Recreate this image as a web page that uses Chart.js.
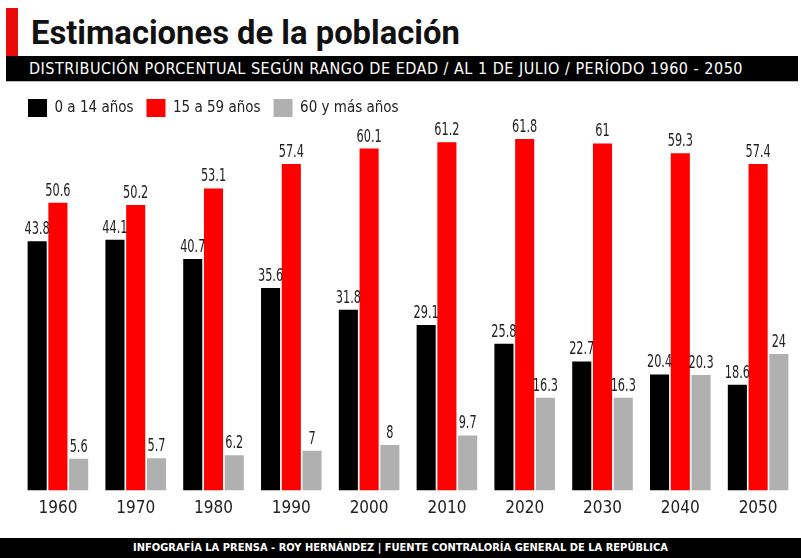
<!DOCTYPE html>
<html><head><meta charset="utf-8">
<script src="https://cdn.jsdelivr.net/npm/chart.js@4/dist/chart.umd.min.js"></script>
<style>
html,body{margin:0;padding:0;background:#fff;width:801px;height:558px;overflow:hidden;position:relative;font-family:"DejaVu Sans Condensed","Liberation Sans Narrow",Roboto,sans-serif;}
#redbar{position:absolute;left:6px;top:8px;width:12px;height:48px;background:#ea0a0a;}
#title{position:absolute;left:31px;top:13px;font-family:Roboto,"Open Sans",sans-serif;font-weight:700;font-size:30px;color:#111;white-space:nowrap;line-height:40px;}
#sub{position:absolute;left:6px;top:56px;width:792px;height:25px;background:#000;border-bottom:1px solid #bbb;}
#subtext{position:absolute;left:29px;top:56px;height:25px;line-height:25px;color:#fff;font-size:16px;white-space:nowrap;}
#footer{position:absolute;left:0;top:538px;width:801px;height:20px;background:#000;}
#foottext{position:absolute;left:133px;top:538px;line-height:20px;color:#fff;font-weight:700;font-size:11px;white-space:nowrap;font-family:"DejaVu Sans Condensed",sans-serif;}
#wrap{position:absolute;left:0;top:86px;width:801px;height:441px;}
</style></head>
<body>
<div id="redbar"></div>
<div id="title">Estimaciones de la población</div>
<div id="sub"></div>
<div id="subtext">DISTRIBUCIÓN PORCENTUAL SEGÚN RANGO DE EDAD / AL 1 DE JULIO / PERÍODO 1960 - 2050</div>
<div id="wrap"><canvas id="c" width="801" height="441"></canvas></div>
<div id="footer"></div>
<div id="foottext">INFOGRAFÍA LA PRENSA - ROY HERNÁNDEZ | FUENTE CONTRALORÍA GENERAL DE LA REPÚBLICA</div>
<script>
const years = ['1960','1970','1980','1990','2000','2010','2020','2030','2040','2050'];
const age0to14 = [43.8,44.1,40.7,35.6,31.8,29.1,25.8,22.7,20.4,18.6];
const age15to59 = [50.6,50.2,53.1,57.4,60.1,61.2,61.8,61,59.3,57.4];
const age60plus = [5.6,5.7,6.2,7,8,9.7,16.3,16.3,20.3,24];
const seriesNames = ['0 a 14 años','15 a 59 años','60 y más años'];
const seriesColors = ['#000000','#ff0000','#b0b0b0'];

function fitSpacing(el, target){
  const n = el.textContent.length;
  const w = el.getBoundingClientRect().width;
  el.style.letterSpacing = ((target - w) / n) + 'px';
}
function fitSize(el, target){
  const w = el.getBoundingClientRect().width;
  const fs = parseFloat(getComputedStyle(el).fontSize);
  el.style.fontSize = (fs * target / w) + 'px';
}
fitSize(document.getElementById('title'), 429);
fitSpacing(document.getElementById('subtext'), 714);
fitSpacing(document.getElementById('foottext'), 535);

const FONT = '"DejaVu Sans Condensed","Liberation Sans Narrow",Roboto,sans-serif';

const valueLabels = {
  id: 'valueLabels',
  afterDatasetsDraw(chart){
    const ctx = chart.ctx;
    chart.data.datasets.forEach((ds, i) => {
      const meta = chart.getDatasetMeta(i);
      meta.data.forEach((bar, j) => {
        ctx.save();
        ctx.font = '17px ' + FONT;
        ctx.fillStyle = '#222';
        ctx.textAlign = 'center';
        ctx.textBaseline = 'bottom';
        ctx.translate(bar.x, bar.y - 3);
        ctx.scale(0.74, 1);
        ctx.fillText(String(ds.data[j]), 0, 0);
        ctx.restore();
      });
    });
  }
};

new Chart(document.getElementById('c'), {
  type: 'bar',
  data: {
    labels: years,
    datasets: [
      {label: seriesNames[0], data: age0to14, backgroundColor: seriesColors[0], borderWidth: 0},
      {label: seriesNames[1], data: age15to59, backgroundColor: seriesColors[1], borderWidth: 0},
      {label: seriesNames[2], data: age60plus, backgroundColor: seriesColors[2], borderWidth: 0}
    ]
  },
  options: {
    responsive: false,
    animation: false,
    devicePixelRatio: 1,
    datasets: {bar: {categoryPercentage: 0.8, barPercentage: 0.92}},
    layout: {padding: {left: 15, right: 4, top: 0, bottom: 0}},
    plugins: {
      tooltip: {enabled: false},
      legend: {
        position: 'top', align: 'start',
        labels: {boxWidth: 19, boxHeight: 18, padding: 13, color: '#222', font: {family: FONT, size: 15}}
      }
    },
    scales: {
      x: {
        grid: {display: false, drawTicks: false}, border: {display: false},
        ticks: {color: '#222', padding: 8, font: {family: FONT, size: 17}}
      },
      y: {
        min: 0, max: 63.9,
        grid: {display: false}, border: {display: false},
        ticks: {display: false},
        afterFit(s){ s.width = 4; }
      }
    }
  },
  plugins: [valueLabels]
});
</script>
</body></html>
